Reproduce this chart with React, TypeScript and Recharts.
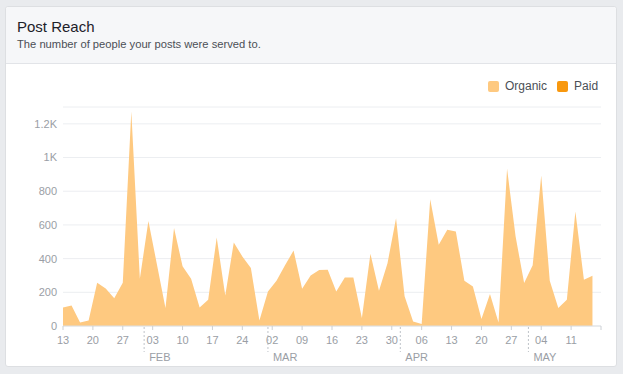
import { AreaChart, Area, XAxis, YAxis, CartesianGrid } from "recharts";

// every second day, Jan 13 – May 16 2016
const dates = [
  "01-13", "01-15", "01-17", "01-19", "01-21", "01-23", "01-25", "01-27", "01-29", "01-31",
  "02-02", "02-04", "02-06", "02-08", "02-10", "02-12", "02-14", "02-16", "02-18", "02-20",
  "02-22", "02-24", "02-26", "02-28", "03-01", "03-03", "03-05", "03-07", "03-09", "03-11",
  "03-13", "03-15", "03-17", "03-19", "03-21", "03-23", "03-25", "03-27", "03-29", "03-31",
  "04-02", "04-04", "04-06", "04-08", "04-10", "04-12", "04-14", "04-16", "04-18", "04-20",
  "04-22", "04-24", "04-26", "04-28", "04-30", "05-02", "05-04", "05-06", "05-08", "05-10",
  "05-12", "05-14", "05-16",
];

const organic = [
  110, 122, 21, 33, 257, 223, 164, 257, 1273, 280,
  624, 365, 107, 581, 355, 280, 110, 156, 525, 181,
  496, 413, 344, 33, 205, 269, 360, 448, 221, 300,
  332, 334, 205, 288, 288, 47, 429, 209, 373, 640,
  176, 27, 12, 753, 482, 571, 561, 269, 235, 41,
  190, 21, 933, 531, 255, 360, 893, 269, 107, 156,
  680, 275, 298,
];

const paid = [
  0, 0, 0, 0, 0, 0, 0, 0, 0, 0,
  0, 0, 0, 0, 0, 0, 0, 0, 0, 0,
  0, 0, 0, 0, 0, 0, 0, 0, 0, 0,
  0, 0, 0, 0, 0, 0, 0, 0, 0, 0,
  0, 0, 0, 0, 0, 0, 0, 0, 0, 0,
  0, 0, 0, 0, 0, 0, 0, 0, 0, 0,
  0, 0, 0,
];

const weekTicks = [
  "01-13", "01-20", "01-27", "02-03", "02-10", "02-17", "02-24", "03-02", "03-09",
  "03-16", "03-23", "03-30", "04-06", "04-13", "04-20", "04-27", "05-04", "05-11",
];
const monthStarts = ["02-01", "03-01", "04-01", "05-01"];
const monthLabels = ["FEB", "MAR", "APR", "MAY"];
const axisEnd = "05-18";

const yTicks = [0, 200, 400, 600, 800, 1000, 1200];

const ORGANIC = "#FEC980";
const PAID = "#F8980E";
const MUTED = "#9a9ea5";

const dayOf = (md: string) => {
  const [m, d] = md.split("-").map(Number);
  return (Date.UTC(2016, m - 1, d) - Date.UTC(2016, 0, 13)) / 86400000;
};

const chartData = dates.map((d, i) => ({ day: dayOf(d), organic: organic[i], paid: paid[i] }));

const weekDays = weekTicks.map(dayOf);
const monthDays = monthStarts.map(dayOf);
const endDay = dayOf(axisEnd);
const allTicks = [...weekDays, ...monthDays, endDay].sort((a, b) => a - b);

function DateTick(props: any) {
  const { x, y, payload } = props;
  const v = payload.value;
  const w = weekDays.indexOf(v);
  const m = monthDays.indexOf(v);
  if (m >= 0) {
    return (
      <g>
        <line x1={x} x2={x} y1={y + 1} y2={y + 26} stroke="#bfc3c9" strokeDasharray="2 2" />
        <text x={x + 5} y={y + 35} fontSize={11} fill={MUTED} textAnchor="start">
          {monthLabels[m]}
        </text>
      </g>
    );
  }
  return (
    <g>
      <line x1={x} x2={x} y1={y} y2={y + 4} stroke="#ccd0d5" />
      {w >= 0 && (
        <text x={x} y={y + 18} fontSize={11} fill={MUTED} textAnchor="middle">
          {weekTicks[w].slice(3)}
        </text>
      )}
    </g>
  );
}

const fmtY = (v: number) => (v >= 1000 ? `${v / 1000}K` : `${v}`);

export default function App() {
  return (
    <div
      style={{
        position: "absolute",
        left: 0,
        top: 0,
        width: 623,
        height: 374,
        background: "#e9ebee",
        fontFamily: "'Liberation Sans', Arial, Helvetica, sans-serif",
        overflow: "hidden",
      }}
    >
      {/* card */}
      <div
        style={{
          position: "absolute",
          left: 5,
          top: 6,
          width: 610,
          height: 359,
          background: "#fff",
          border: "1px solid #dddfe2",
          borderRadius: 3,
        }}
      />
      {/* header */}
      <div
        style={{
          position: "absolute",
          left: 6,
          top: 7,
          width: 610,
          height: 56,
          background: "#f6f7f9",
          borderBottom: "1px solid #e2e4e8",
          borderRadius: "3px 3px 0 0",
        }}
      >
        <div style={{ position: "absolute", left: 11, top: 11, fontSize: 15, lineHeight: "18px", color: "#1d2129" }}>
          Post Reach
        </div>
        <div style={{ position: "absolute", left: 11, top: 30, fontSize: 11.2, lineHeight: "15px", color: "#4b4f56" }}>
          The number of people your posts were served to.
        </div>
      </div>

      {/* legend */}
      <div
        style={{
          position: "absolute",
          left: 488,
          top: 79,
          display: "flex",
          alignItems: "center",
          fontSize: 12,
          lineHeight: "15px",
          color: "#4b4f56",
        }}
      >
        <span style={{ width: 11, height: 11, background: ORGANIC, borderRadius: 2, marginRight: 6 }} />
        <span style={{ marginRight: 10 }}>Organic</span>
        <span style={{ width: 11, height: 11, background: PAID, borderRadius: 2, marginRight: 6 }} />
        <span>Paid</span>
      </div>

      <div style={{ position: "absolute", left: 0, top: 64 }}>
        <AreaChart
          width={623}
          height={303}
          data={chartData}
          margin={{ top: 43, right: 22, left: 0, bottom: 1 }}
        >
          <CartesianGrid vertical={false} stroke="#eceef1" />
          <XAxis
            type="number"
            dataKey="day"
            domain={[0, endDay]}
            ticks={allTicks}
            interval={0}
            tick={<DateTick />}
            tickLine={false}
            tickSize={0}
            tickMargin={0}
            height={40}
            axisLine={{ stroke: "#dddfe2" }}
          />
          <YAxis
            domain={[0, 1300]}
            ticks={yTicks}
            width={63}
            tickFormatter={fmtY}
            axisLine={false}
            tickLine={false}
            tickSize={0}
            tickMargin={6}
            tick={{ fontSize: 11, fill: MUTED }}
          />
          <Area
            type="linear"
            dataKey="paid"
            stackId="reach"
            stroke="none"
            fill={PAID}
            fillOpacity={1}
            isAnimationActive={false}
          />
          <Area
            type="linear"
            dataKey="organic"
            stackId="reach"
            stroke="none"
            fill={ORGANIC}
            fillOpacity={1}
            isAnimationActive={false}
          />
        </AreaChart>
      </div>
    </div>
  );
}
